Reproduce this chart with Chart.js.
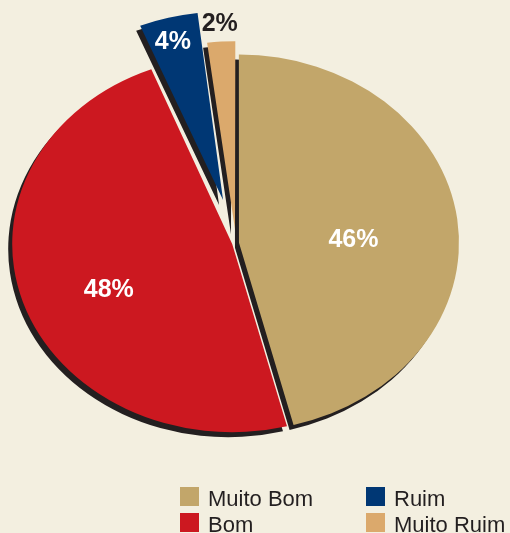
<!DOCTYPE html>
<html>
<head>
<meta charset="utf-8">
<script src="https://cdn.jsdelivr.net/npm/chart.js@4.4.1/dist/chart.umd.min.js"></script>
<style>
  html, body { margin: 0; padding: 0; background: #f3efe0; }
  #wrap { position: relative; width: 510px; height: 533px; overflow: hidden; }
</style>
</head>
<body>
<div id="wrap"><canvas id="pieChart" width="510" height="533"></canvas></div>
<script>
const categories = ["Muito Bom", "Bom", "Ruim", "Muito Ruim"];
const values = [46, 48, 4, 2];
const valueLabels = ["46%", "48%", "4%", "2%"];

const colors = ["#c2a66a", "#cc1820", "#003774", "#dba96c"];
const labelColors = ["#ffffff", "#ffffff", "#ffffff", "#231f20"];
const labelRadius = [0.52, 0.59, 0.88, 1.105];
const labelNudgeX = [1, 0, -2, 0];
const labelNudgeY = [10, 12, 3, 2];
// chart.js moves an arc by offset / 4 px
const explode = [12, 16, 208, 64];
const pieRadius = 220;

// the original pie is squashed a little vertically
const squash = 0.855;

const squashPlugin = {
  id: "squash",
  afterDatasetsUpdate(chart) {
    // chart.js grows and narrows an exploded arc; undo that so slices keep their size
    chart.getDatasetMeta(0).data.forEach((arc, i) => {
      const off = explode[i] / 4;
      const fix = 1 - Math.sin(Math.min(Math.PI, arc.circumference || 0));
      arc.outerRadius = pieRadius - off * fix;
      const widen = off / (Math.PI * pieRadius) / 2;
      arc.startAngle -= widen;
      arc.endAngle += widen;
    });
  },
  beforeDatasetsDraw(chart) {
    const ctx = chart.ctx;
    const cy = (chart.chartArea.top + chart.chartArea.bottom) / 2;
    ctx.save();
    ctx.translate(0, cy);
    ctx.scale(1, squash);
    ctx.translate(0, -cy);
    ctx.shadowColor = "#231f20";
    ctx.shadowOffsetX = -4;
    ctx.shadowOffsetY = 5;
    ctx.shadowBlur = 0;
  },
  afterDatasetsDraw(chart) {
    const ctx = chart.ctx;
    ctx.restore();

    const meta = chart.getDatasetMeta(0);
    ctx.save();
    ctx.font = "bold 25px 'Liberation Sans', Arial, sans-serif";
    ctx.textAlign = "center";
    ctx.textBaseline = "middle";
    meta.data.forEach((arc, i) => {
      const p = arc.getProps(["x", "y", "startAngle", "endAngle"], true);
      const mid = (p.startAngle + p.endAngle) / 2;
      const r = pieRadius * labelRadius[i] + explode[i] / 4;
      const lx = p.x + Math.cos(mid) * r + labelNudgeX[i];
      const ly = p.y + Math.sin(mid) * r * squash + labelNudgeY[i];
      ctx.fillStyle = labelColors[i];
      ctx.fillText(valueLabels[i], lx, ly);
    });
    ctx.restore();
  },
  afterDraw(chart) {
    // legend in two columns, bottom right
    const ctx = chart.ctx;
    ctx.save();
    ctx.font = "22px 'Liberation Sans', Arial, sans-serif";
    ctx.textBaseline = "alphabetic";
    ctx.textAlign = "left";
    categories.forEach((name, i) => {
      const col = Math.floor(i / 2);
      const row = i % 2;
      const bx = 180 + col * 186;
      const by = 487 + row * 26;
      ctx.fillStyle = colors[i];
      ctx.fillRect(bx, by, 19, 19);
      ctx.fillStyle = "#231f20";
      ctx.fillText(name, bx + 28, by + 19);
    });
    ctx.restore();
  }
};

new Chart(document.getElementById("pieChart"), {
  type: "pie",
  data: {
    labels: categories,
    datasets: [
      {
        data: values,
        backgroundColor: colors,
        borderWidth: 0,
        offset: explode,
        clip: false
      }
    ]
  },
  options: {
    responsive: false,
    animation: false,
    radius: pieRadius,
    layout: { padding: { left: 0, right: 38, top: 0, bottom: 47 } },
    plugins: {
      legend: { display: false },
      tooltip: { enabled: false }
    },
    events: []
  },
  plugins: [squashPlugin]
});
</script>
</body>
</html>
